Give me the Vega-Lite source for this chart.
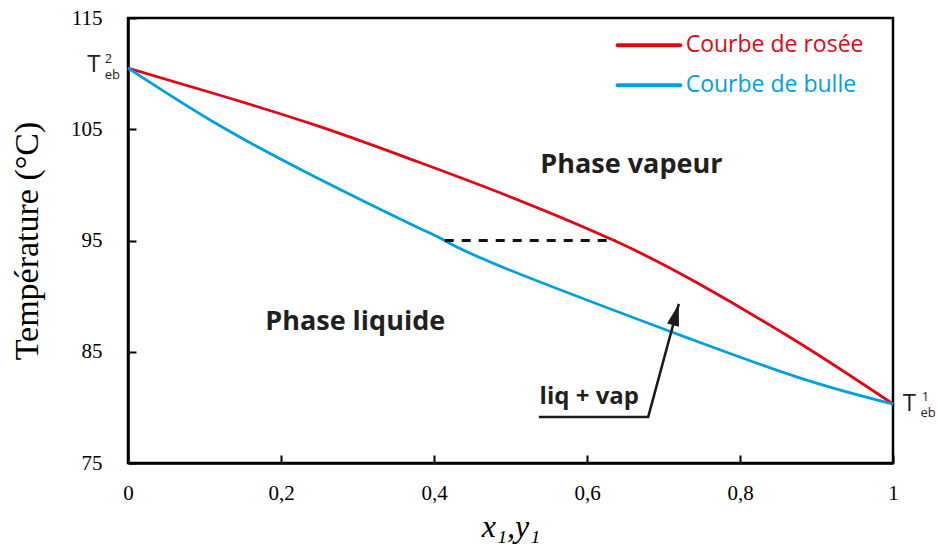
{
  "$schema": "https://vega.github.io/schema/vega-lite/v6.json",
  "width": 765,
  "height": 445,
  "autosize": {"type": "none"},
  "padding": {"left": 128, "top": 18, "right": 45, "bottom": 91},
  "background": "white",
  "config": {
    "view": {"stroke": "black", "strokeWidth": 2.5},
    "axis": {
      "grid": false,
      "domainColor": "black",
      "domainWidth": 2.5,
      "tickColor": "black",
      "tickWidth": 2,
      "tickSize": -8,
      "labelFont": "Liberation Serif",
      "labelFontSize": 21,
      "labelColor": "black",
      "titleFont": "Liberation Serif",
      "titleFontWeight": "normal",
      "titleColor": "black"
    }
  },
  "datasets": {
    "curves": [
      {"curve": "rosee", "x": 0, "T": 110.5},
      {"curve": "rosee", "x": 0.118, "T": 108.1},
      {"curve": "rosee", "x": 0.248, "T": 105.3},
      {"curve": "rosee", "x": 0.372, "T": 102.25},
      {"curve": "rosee", "x": 0.497, "T": 99.0},
      {"curve": "rosee", "x": 0.637, "T": 94.95},
      {"curve": "rosee", "x": 0.745, "T": 91.15},
      {"curve": "rosee", "x": 0.876, "T": 85.85},
      {"curve": "rosee", "x": 1, "T": 80.3},
      {"curve": "bulle", "x": 0, "T": 110.5},
      {"curve": "bulle", "x": 0.118, "T": 105.4},
      {"curve": "bulle", "x": 0.248, "T": 100.6},
      {"curve": "bulle", "x": 0.372, "T": 96.4},
      {"curve": "bulle", "x": 0.414, "T": 95.0},
      {"curve": "bulle", "x": 0.497, "T": 92.4},
      {"curve": "bulle", "x": 0.702, "T": 87.0},
      {"curve": "bulle", "x": 0.745, "T": 85.9},
      {"curve": "bulle", "x": 0.876, "T": 82.7},
      {"curve": "bulle", "x": 1, "T": 80.3}
    ],
    "tieline": [
      {"x": 0.414, "T": 95},
      {"x": 0.637, "T": 95}
    ],
    "arrow": [
      {"o": 1, "x": 0.537, "T": 79.14},
      {"o": 2, "x": 0.68, "T": 79.14},
      {"o": 3, "x": 0.72, "T": 89.3}
    ],
    "arrowhead": [
      {"x": 0.72, "T": 89.3}
    ],
    "legend": [
      {"curve": "rosee", "label": "Courbe de rosée", "x": 0.640, "x2": 0.722, "tx": 0.729, "T": 112.55},
      {"curve": "bulle", "label": "Courbe de bulle", "x": 0.640, "x2": 0.722, "tx": 0.729, "T": 108.95}
    ],
    "phases": [
      {"label": "Phase vapeur", "x": 0.658, "T": 101.75},
      {"label": "Phase liquide", "x": 0.297, "T": 87.7}
    ],
    "liqvap": [
      {"label": "liq + vap", "x": 0.603, "T": 80.9}
    ],
    "tbig": [
      {"label": "T", "x": -0.0445, "T": 110.77},
      {"label": "T", "x": 1.0215, "T": 80.27}
    ],
    "tsmall": [
      {"label": "2", "x": -0.0255, "T": 111.35},
      {"label": "eb", "x": -0.0205, "T": 109.9},
      {"label": "1", "x": 1.0425, "T": 80.9},
      {"label": "eb", "x": 1.046, "T": 79.45}
    ]
  },
  "encoding": {
    "x": {
      "field": "x",
      "type": "quantitative",
      "scale": {"domain": [0, 1], "nice": false, "zero": false},
      "axis": {
        "values": [0, 0.2, 0.4, 0.6, 0.8, 1],
        "format": "~g",
        "labelExpr": "replace(datum.label, '.', ',')",
        "labelPadding": 27,
        "labelFlush": false,
        "title": "x₁,y₁",
        "titleFontStyle": "italic",
        "titleFontSize": 32,
        "titlePadding": 8
      }
    },
    "y": {
      "field": "T",
      "type": "quantitative",
      "scale": {"domain": [75, 115], "nice": false, "zero": false},
      "axis": {
        "values": [75, 85, 95, 105, 115],
        "labelPadding": 34,
        "labelFlush": false,
        "title": "Température (°C)",
        "titleFontSize": 34,
        "titlePadding": 26
      }
    }
  },
  "layer": [
    {
      "data": {"name": "curves"},
      "mark": {"type": "line", "strokeWidth": 2.8, "interpolate": "natural"},
      "encoding": {
        "color": {
          "field": "curve",
          "type": "nominal",
          "scale": {"domain": ["rosee", "bulle"], "range": ["#e30613", "#009fe3"]},
          "legend": null
        }
      }
    },
    {
      "data": {"name": "tieline"},
      "mark": {"type": "line", "color": "#111111", "strokeWidth": 2.8, "strokeDash": [9, 8]},
      "encoding": {}
    },
    {
      "data": {"name": "arrow"},
      "mark": {"type": "line", "color": "#1a1a1a", "strokeWidth": 2.5},
      "encoding": {"order": {"field": "o", "type": "quantitative"}}
    },
    {
      "data": {"name": "arrowhead"},
      "mark": {"type": "point", "shape": "M0,0L0.45,1.6L-0.45,1.6Z", "filled": true, "color": "#1a1a1a", "opacity": 1, "size": 756, "angle": 15.3},
      "encoding": {}
    },
    {
      "data": {"name": "legend"},
      "mark": {"type": "rule", "strokeWidth": 4, "strokeCap": "round"},
      "encoding": {
        "x2": {"field": "x2"},
        "color": {"field": "curve", "type": "nominal", "legend": null}
      }
    },
    {
      "data": {"name": "legend"},
      "mark": {"type": "text", "font": "Open Sans", "fontSize": 23, "align": "left", "baseline": "middle"},
      "encoding": {
        "x": {"field": "tx", "type": "quantitative"},
        "text": {"field": "label"},
        "color": {"field": "curve", "type": "nominal", "legend": null}
      }
    },
    {
      "data": {"name": "phases"},
      "mark": {"type": "text", "font": "Open Sans", "fontSize": 27, "fontWeight": "bold", "color": "#231f20", "align": "center", "baseline": "middle"},
      "encoding": {"text": {"field": "label"}}
    },
    {
      "data": {"name": "liqvap"},
      "mark": {"type": "text", "font": "Open Sans", "fontSize": 24, "fontWeight": "bold", "color": "#231f20", "align": "center", "baseline": "middle"},
      "encoding": {"text": {"field": "label"}}
    },
    {
      "data": {"name": "tbig"},
      "mark": {"type": "text", "font": "Open Sans", "fontSize": 24, "color": "#231f20", "align": "center", "baseline": "middle"},
      "encoding": {"text": {"field": "label"}}
    },
    {
      "data": {"name": "tsmall"},
      "mark": {"type": "text", "font": "Open Sans", "fontSize": 13, "color": "#231f20", "align": "center", "baseline": "middle"},
      "encoding": {"text": {"field": "label"}}
    }
  ]
}
